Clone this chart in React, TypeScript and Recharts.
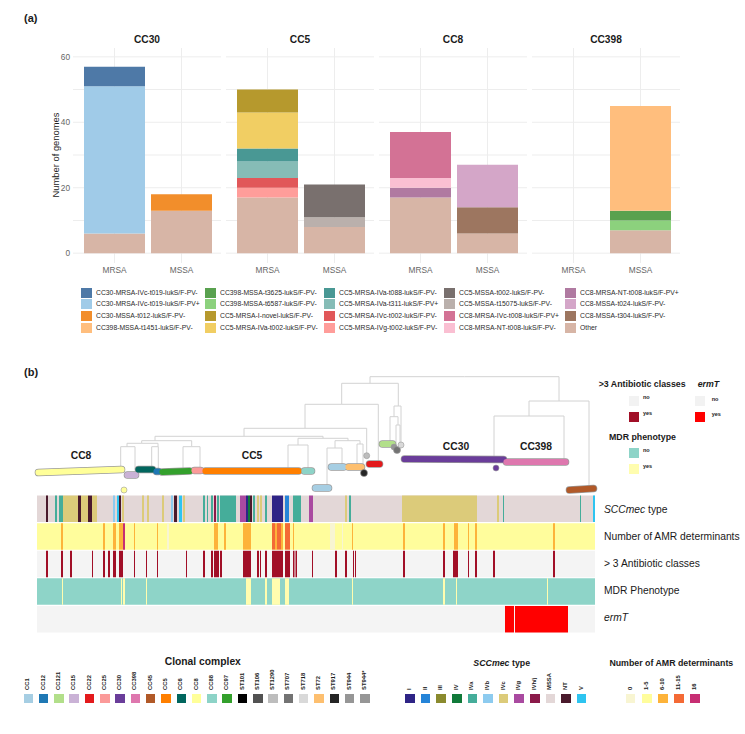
import React from "react";
import {
  BarChart,
  Bar,
  XAxis,
  YAxis,
  CartesianGrid,
  ComposedChart,
  ReferenceLine,
  ReferenceArea,
  Scatter,
} from "recharts";

const FONT = '"Liberation Sans", Arial, Helvetica, sans-serif';

// ---------------- panel (a): genomes per lineage ----------------
const facets = ["CC30", "CC5", "CC8", "CC398"];
const groups = ["MRSA", "MSSA"];
const yTicks = [0, 10, 20, 30, 40, 50, 60];

const lineages = [
  "CC30-MRSA-IVc-t019-lukS/F-PV-",
  "CC30-MRSA-IVc-t019-lukS/F-PV+",
  "CC30-MSSA-t012-lukS/F-PV-",
  "CC398-MSSA-t1451-lukS/F-PV-",
  "CC398-MSSA-t3625-lukS/F-PV-",
  "CC398-MSSA-t6587-lukS/F-PV-",
  "CC5-MRSA-I-novel-lukS/F-PV-",
  "CC5-MRSA-IVa-t002-lukS/F-PV-",
  "CC5-MRSA-IVa-t088-lukS/F-PV-",
  "CC5-MRSA-IVa-t311-lukS/F-PV+",
  "CC5-MRSA-IVc-t002-lukS/F-PV-",
  "CC5-MRSA-IVg-t002-lukS/F-PV-",
  "CC5-MSSA-t002-lukS/F-PV-",
  "CC5-MSSA-t15075-lukS/F-PV-",
  "CC8-MRSA-IVc-t008-lukS/F-PV+",
  "CC8-MRSA-NT-t008-lukS/F-PV-",
  "CC8-MRSA-NT-t008-lukS/F-PV+",
  "CC8-MSSA-t024-lukS/F-PV-",
  "CC8-MSSA-t304-lukS/F-PV-",
  "Other",
];

const lineageColors = [
  "#4E79A7", "#A0CBE8", "#F28E2B", "#FFBE7D", "#59A14F",
  "#8CD17D", "#B6992D", "#F1CE63", "#499894", "#86BCB6",
  "#E15759", "#FF9D9A", "#79706E", "#BAB0AC", "#D37295",
  "#FABFD2", "#B07AA1", "#D4A6C8", "#9D7660", "#D7B5A6",
];

const cc30Mrsa: [string, number][] = [
  ["Other", 6],
  ["CC30-MRSA-IVc-t019-lukS/F-PV+", 45],
  ["CC30-MRSA-IVc-t019-lukS/F-PV-", 6],
];
const cc30Mssa: [string, number][] = [
  ["Other", 13],
  ["CC30-MSSA-t012-lukS/F-PV-", 5],
];
const cc5Mrsa: [string, number][] = [
  ["Other", 17],
  ["CC5-MRSA-IVg-t002-lukS/F-PV-", 3],
  ["CC5-MRSA-IVc-t002-lukS/F-PV-", 3],
  ["CC5-MRSA-IVa-t311-lukS/F-PV+", 5],
  ["CC5-MRSA-IVa-t088-lukS/F-PV-", 4],
  ["CC5-MRSA-IVa-t002-lukS/F-PV-", 11],
  ["CC5-MRSA-I-novel-lukS/F-PV-", 7],
];
const cc5Mssa: [string, number][] = [
  ["Other", 8],
  ["CC5-MSSA-t15075-lukS/F-PV-", 3],
  ["CC5-MSSA-t002-lukS/F-PV-", 10],
];
const cc8Mrsa: [string, number][] = [
  ["Other", 17],
  ["CC8-MRSA-NT-t008-lukS/F-PV+", 3],
  ["CC8-MRSA-NT-t008-lukS/F-PV-", 3],
  ["CC8-MRSA-IVc-t008-lukS/F-PV+", 14],
];
const cc8Mssa: [string, number][] = [
  ["Other", 6],
  ["CC8-MSSA-t304-lukS/F-PV-", 8],
  ["CC8-MSSA-t024-lukS/F-PV-", 13],
];
const cc398Mrsa: [string, number][] = [];
const cc398Mssa: [string, number][] = [
  ["Other", 7],
  ["CC398-MSSA-t6587-lukS/F-PV-", 3],
  ["CC398-MSSA-t3625-lukS/F-PV-", 3],
  ["CC398-MSSA-t1451-lukS/F-PV-", 32],
];

const facetCounts = [
  [cc30Mrsa, cc30Mssa],
  [cc5Mrsa, cc5Mssa],
  [cc8Mrsa, cc8Mssa],
  [cc398Mrsa, cc398Mssa],
];

const facetData = facetCounts.map((pair) =>
  pair.map((counts, gi) => {
    const row: Record<string, string | number> = { group: groups[gi] };
    lineages.forEach((_, k) => (row[`k${k}`] = 0));
    counts.forEach(([name, n]) => (row[`k${lineages.indexOf(name)}`] = n));
    return row;
  })
);

// ggplot stacks the first level on top, so draw from the last one up
const stackOrder = lineages.map((_, k) => k).reverse();

// ---------------- panel (b): tree + tracks ----------------
// tip position along the tree (same units as the tracks) and depth from the root
const treeNodes = [
  { id: "root", parent: "", pos: 427.5, depth: 6.7 },
  { id: "a", parent: "root", pos: 333, depth: 13.3 },
  { id: "b", parent: "root", pos: 522, depth: 31 },
  { id: "c", parent: "b", pos: 492, depth: 46 },
  { id: "cc45", parent: "b", pos: 552, depth: 117 },
  { id: "cc30", parent: "c", pos: 457, depth: 88 },
  { id: "cc398", parent: "c", pos: 527, depth: 92 },
  { id: "d", parent: "a", pos: 304.7, depth: 34.3 },
  { id: "e", parent: "a", pos: 361.3, depth: 36 },
  { id: "f", parent: "e", pos: 357, depth: 46.7 },
  { id: "st718", parent: "e", pos: 364, depth: 73 },
  { id: "cc121", parent: "f", pos: 353, depth: 72 },
  { id: "g", parent: "f", pos: 361, depth: 55 },
  { id: "st944", parent: "g", pos: 359, depth: 76 },
  { id: "st707", parent: "g", pos: 363, depth: 78 },
  { id: "h", parent: "d", pos: 268, depth: 58.3 },
  { id: "cc22", parent: "d", pos: 341.3, depth: 92 },
  { id: "i", parent: "h", pos: 207, depth: 66.3 },
  { id: "st1290", parent: "h", pos: 329.7, depth: 83 },
  { id: "j", parent: "i", pos: 118, depth: 70.7 },
  { id: "k", parent: "i", pos: 286, depth: 68.3 },
  { id: "l", parent: "j", pos: 104.7, depth: 73.3 },
  { id: "m", parent: "j", pos: 154.7, depth: 76.7 },
  { id: "n", parent: "l", pos: 90, depth: 76.7 },
  { id: "o", parent: "l", pos: 121, depth: 76.7 },
  { id: "cc8", parent: "n", pos: 83.7, depth: 97 },
  { id: "cc15", parent: "n", pos: 98, depth: 99 },
  { id: "cc6", parent: "o", pos: 114.7, depth: 99 },
  { id: "cc12", parent: "o", pos: 121.3, depth: 100 },
  { id: "cc97", parent: "m", pos: 146, depth: 98 },
  { id: "cc25", parent: "m", pos: 163, depth: 98 },
  { id: "p", parent: "k", pos: 261, depth: 75 },
  { id: "q", parent: "k", pos: 311, depth: 70.7 },
  { id: "cc5", parent: "p", pos: 251, depth: 98 },
  { id: "cc88", parent: "p", pos: 271, depth: 98 },
  { id: "s", parent: "q", pos: 298, depth: 78 },
  { id: "t", parent: "q", pos: 323, depth: 74 },
  { id: "cc1b", parent: "s", pos: 290, depth: 115 },
  { id: "cc1a", parent: "s", pos: 305, depth: 96 },
  { id: "st72", parent: "t", pos: 320, depth: 96 },
  { id: "st917", parent: "t", pos: 326, depth: 101 },
];

// clade tip bars: [clade colour, pos start, pos end, depth start, depth end]
const cladeBars: [string, number, number, number, number][] = [
  ["#FFFF99", 1.5, 84.5, 102.5, 99.5],
  ["#CAB2D6", 90.5, 98.5, 105, 105],
  ["#01665E", 101.5, 115.5, 99.5, 99.5],
  ["#1F78B4", 119.5, 121.5, 101.5, 101.5],
  ["#33A02C", 125.5, 152.5, 102, 101],
  ["#FB9A99", 157.5, 163.5, 100.5, 100.5],
  ["#FF7F00", 168.5, 261.5, 101, 101],
  ["#8DD3C7", 267.5, 274.5, 101, 101],
  ["#A6CEE3", 294.5, 306.5, 97, 97],
  ["#A6CEE3", 278.5, 291.5, 118, 118],
  ["#FDBF6F", 311.5, 324.5, 97, 97],
  ["#E31A1C", 332.5, 342.5, 94, 94],
  ["#B2DF8A", 345.5, 355.5, 74, 74],
  ["#6A3D9A", 367.5, 466.5, 89, 89.5],
  ["#DE77AE", 469.5, 528.5, 92, 92],
  ["#B15928", 532.5, 556.5, 120, 118.5],
];

const tipDots = [
  { pos: 87, depth: 120, color: "#FFFF99", r: 3 },
  { pos: 459, depth: 98, color: "#6A3D9A", r: 3 },
  { pos: 329.7, depth: 85.7, color: "#BDBDBD", r: 3 },
  { pos: 327, depth: 103, color: "#252525", r: 3.5 },
  { pos: 357, depth: 77, color: "#969696", r: 3 },
  { pos: 360, depth: 80, color: "#737373", r: 3.5 },
  { pos: 364, depth: 75, color: "#D9D9D9", r: 3 },
];

const cladeLabels = [
  { name: "CC8", x: 81, y: 456 },
  { name: "CC5", x: 252, y: 456 },
  { name: "CC30", x: 456, y: 447 },
  { name: "CC398", x: 536, y: 447 },
];

const sccTypes = ["I", "II", "III", "IV", "IVa", "IVb", "IVc", "IVg", "IVh/j", "MSSA", "NT", "V"];
const sccColors = ["#2E2486", "#2584D8", "#8A8A2E", "#117A3A", "#45AD9A", "#8DCBEF", "#DCCB7A", "#A94AA0", "#8B1A4A", "#E3D7D7", "#4A1A2C", "#2EC4F0"];

const amrLevels = ["0", "1-5", "6-10", "11-15", "16"];
const amrColors = ["#F8F5D2", "#FFFD9C", "#FDB33A", "#F46A35", "#C72E73"];

const sccRuns: [number, number, string][] = [
  [9, 11, "NT"], [18, 20, "IVa"], [22, 26, "IVa"], [26, 41, "IVc"], [41, 44, "NT"],
  [44, 51, "IVc"], [51, 55, "NT"], [55, 60, "IVc"], [76, 78, "IVb"], [80, 82, "V"],
  [82, 84, "NT"], [85, 87, "IVc"], [105, 107, "IVc"], [110, 112, "IVc"], [125, 127, "IVc"],
  [134, 136, "IVb"], [137, 140, "NT"], [142, 145, "V"], [146, 148, "IVc"], [166, 168, "IVa"],
  [170, 171, "IVa"], [174, 176, "IVa"], [177, 179, "IVh/j"], [180, 182, "IVa"], [183, 199, "IVa"],
  [203, 209, "IVg"], [209, 211, "I"], [211, 213, "IV"], [213, 215, "NT"], [216, 218, "IVa"],
  [220, 222, "IVc"], [223, 225, "IVc"], [228, 230, "IVa"], [235, 246, "I"], [248, 252, "II"],
  [256, 264, "IVa"], [272, 276, "IVg"], [308, 310, "IVc"], [312, 314, "IVa"], [365, 440, "IVc"],
  [460, 462, "IVc"], [466, 467, "IVa"], [543, 544, "IVa"], [556, 558, "V"],
];

const amrRuns: [number, number, string][] = [
  [24, 26, "6-10"], [66, 68, "6-10"], [76, 79, "6-10"], [82, 86, "6-10"], [86, 88, "16"],
  [97, 98, "6-10"], [120, 121, "6-10"], [130, 132, "0"], [177, 181, "6-10"], [187, 189, "6-10"],
  [206, 214, "6-10"], [235, 238, "11-15"], [238, 240, "6-10"], [240, 244, "11-15"], [244, 246, "6-10"],
  [248, 253, "11-15"], [256, 257, "6-10"], [293, 298, "0"], [305, 306, "0"], [315, 316, "6-10"],
  [366, 368, "6-10"], [406, 408, "6-10"], [417, 421, "6-10"], [431, 432, "6-10"], [438, 440, "6-10"],
  [516, 518, "6-10"],
];

const classRuns: [number, number][] = [
  [9, 11], [24, 26], [33, 35], [55, 56], [66, 68], [71, 73], [76, 79], [82, 86], [97, 98],
  [109, 110], [120, 121], [149, 150], [166, 168], [174, 176], [177, 182], [183, 185], [206, 214],
  [220, 222], [223, 224], [228, 230], [235, 246], [248, 253], [256, 257.5], [258.5, 260], [275, 276],
  [298, 300], [308, 310], [316, 317], [318, 319], [366, 368], [406, 408], [416, 421], [431, 432],
  [438, 440], [456, 458], [516, 518],
];

const mdrRuns: [number, number][] = [
  [25, 26], [84, 85], [86, 88], [109, 110], [209, 214], [228, 230], [235, 243], [248, 252],
  [315, 316], [406, 408], [419, 420], [510, 511],
];

const ermtRuns: [number, number][] = [
  [468, 477], [478, 531],
];

const cloneNames = ["CC1", "CC12", "CC121", "CC15", "CC22", "CC25", "CC30", "CC398", "CC45", "CC5", "CC6", "CC8", "CC88", "CC97", "ST101", "ST106", "ST1290", "ST707", "ST718", "ST72", "ST917", "ST944", "ST944*"];
const cloneColors = ["#A6CEE3", "#1F78B4", "#B2DF8A", "#CAB2D6", "#E31A1C", "#FB9A99", "#6A3D9A", "#DE77AE", "#B15928", "#FF7F00", "#01665E", "#FFFF99", "#8DD3C7", "#33A02C", "#000000", "#525252", "#BDBDBD", "#737373", "#D9D9D9", "#FDBF6F", "#252525", "#969696", "#969696"];

const treeEdges = treeNodes.flatMap((nd) => {
  const par = treeNodes.find((p) => p.id === nd.parent);
  if (!par) return [];
  return [
    [{ x: nd.pos, y: par.depth }, { x: nd.pos, y: nd.depth }],
    [{ x: nd.pos, y: par.depth }, { x: par.pos, y: par.depth }],
  ];
});

const trackNames = ["SCCmec type", "Number of AMR determinants", "> 3 Antibiotic classes", "MDR Phenotype", "ermT"];

const trackRows = [
  { base: sccColors[9], runs: sccRuns.map(([a, b, t]) => [a, b, sccColors[sccTypes.indexOf(t)]]) },
  { base: amrColors[1], runs: amrRuns.map(([a, b, t]) => [a, b, amrColors[amrLevels.indexOf(t)]]) },
  { base: "#F4F4F4", runs: classRuns.map(([a, b]) => [a, b, "#A10F27"]) },
  { base: "#8ED4C8", runs: mdrRuns.map(([a, b]) => [a, b, "#FFFDAF"]) },
  { base: "#F4F4F4", runs: ermtRuns.map(([a, b]) => [a, b, "#FF0000"]) },
];

// one anchor per track row so the chart has data to build its scales from
const trackAnchors = trackNames.map((name, i) => ({ name, pos: 0, row: i + 0.5 }));

const trackLabelY = [510, 537, 564, 591, 618];

const plotLeft = [73, 226, 379, 532];

type TxtProps = {
  x: number;
  y: number;
  size: number;
  bold?: boolean;
  italic?: boolean;
  center?: boolean;
  color?: string;
  children: React.ReactNode;
};

function Txt({ x, y, size, bold, italic, center, color = "#1a1a1a", children }: TxtProps) {
  return (
    <div
      style={{
        position: "absolute",
        left: x,
        top: y,
        transform: center ? "translate(-50%, -50%)" : "translate(0, -50%)",
        fontSize: size,
        fontWeight: bold ? 700 : 400,
        fontStyle: italic ? "italic" : "normal",
        color,
        whiteSpace: "nowrap",
        lineHeight: 1,
      }}
    >
      {children}
    </div>
  );
}

function UpLabel({ cx, text }: { cx: number; text: string }) {
  const fs = 5.8;
  return (
    <div
      style={{
        position: "absolute",
        left: cx,
        top: 690 - fs / 2,
        fontSize: fs,
        lineHeight: `${fs}px`,
        fontWeight: 700,
        whiteSpace: "nowrap",
        transformOrigin: "0 50%",
        transform: "rotate(-90deg)",
        color: "#1a1a1a",
      }}
    >
      {text}
    </div>
  );
}

function Swatch({ x, y, w, h, color }: { x: number; y: number; w: number; h: number; color: string }) {
  return <div style={{ position: "absolute", left: x, top: y, width: w, height: h, background: color }} />;
}

function FacetChart({ idx }: { idx: number }) {
  const first = idx === 0;
  const yw = first ? 50 : 0;
  return (
    <div style={{ position: "absolute", left: plotLeft[idx] - yw, top: 48 }}>
      <BarChart
        width={148 + yw}
        height={235}
        data={facetData[idx]}
        margin={{ top: 0, right: 0, bottom: 0, left: 0 }}
        barSize={61}
      >
        <CartesianGrid
          stroke="#EDEDED"
          syncWithTicks
          horizontalValues={yTicks}
          verticalValues={groups}
        />
        <XAxis
          dataKey="group"
          height={20}
          interval={0}
          tickLine={false}
          axisLine={false}
          tickSize={0}
          tickMargin={4}
          padding={{ left: 8, right: 6 }}
          tick={{ fill: "#666", fontSize: 8.3, fontFamily: FONT }}
        />
        <YAxis
          type="number"
          domain={[-3, 62.7]}
          allowDataOverflow
          ticks={yTicks}
          hide={!first}
          width={yw}
          tickLine={false}
          axisLine={false}
          tickSize={0}
          tickMargin={3}
          tickFormatter={(v: number) => (v % 20 === 0 ? String(v) : "")}
          tick={{ fill: "#666", fontSize: 8.3, fontFamily: FONT }}
        />
        {stackOrder.map((k) => (
          <Bar key={k} dataKey={`k${k}`} stackId="s" fill={lineageColors[k]} isAnimationActive={false} />
        ))}
      </BarChart>
    </div>
  );
}

export default function App() {
  return (
    <div
      style={{
        position: "absolute",
        left: 0,
        top: 0,
        width: 745,
        height: 734,
        background: "#fff",
        fontFamily: FONT,
        overflow: "hidden",
      }}
    >
      {/* ---------- (a) ---------- */}
      <Txt x={24} y={18} size={11} bold>(a)</Txt>
      {facets.map((f, i) => (
        <Txt key={f} x={plotLeft[i] + 74} y={40} size={10.2} bold center>
          {f}
        </Txt>
      ))}
      {facets.map((f, i) => (
        <FacetChart key={f} idx={i} />
      ))}
      <div
        style={{
          position: "absolute",
          left: 55,
          top: 155,
          transform: "translate(-50%, -50%) rotate(-90deg)",
          fontSize: 9.4,
          whiteSpace: "nowrap",
          color: "#1a1a1a",
        }}
      >
        Number of genomes
      </div>

      {lineages.map((name, i) => {
        const col = Math.floor(i / 4);
        const row = i % 4;
        const tx = [96, 220, 339, 459, 580][col];
        const cy = 292.5 + row * 11.7;
        return (
          <React.Fragment key={name}>
            <Swatch x={tx - 15} y={cy - 5} w={11} h={10} color={lineageColors[i]} />
            <Txt x={tx} y={cy} size={6.8} color="#2a2a2a">{name}</Txt>
          </React.Fragment>
        );
      })}

      {/* ---------- (b) ---------- */}
      <Txt x={24} y={372} size={11} bold>(b)</Txt>

      <div style={{ position: "absolute", left: 0, top: 370 }}>
        <ComposedChart width={745} height={130} margin={{ top: 0, right: 148, bottom: 0, left: 37 }}>
          <XAxis type="number" dataKey="pos" domain={[0, 560]} hide allowDataOverflow />
          <YAxis type="number" dataKey="depth" domain={[0, 130]} reversed hide allowDataOverflow />
          {treeEdges.map((seg, i) => (
            <ReferenceLine key={`e${i}`} segment={seg} stroke="#D2D2D2" strokeWidth={1} ifOverflow="visible" />
          ))}
          {cladeBars.map(([c, p1, p2, d1, d2], i) => (
            <ReferenceLine
              key={`o${i}`}
              segment={[{ x: p1, y: d1 }, { x: p2, y: d2 }]}
              stroke="#9A9A9A"
              strokeWidth={7.6}
              strokeLinecap="round"
              ifOverflow="visible"
            />
          ))}
          {cladeBars.map(([c, p1, p2, d1, d2], i) => (
            <ReferenceLine
              key={`b${i}`}
              segment={[{ x: p1, y: d1 }, { x: p2, y: d2 }]}
              stroke={c}
              strokeWidth={6.2}
              strokeLinecap="round"
              ifOverflow="visible"
            />
          ))}
          <Scatter
            data={tipDots}
            dataKey="depth"
            isAnimationActive={false}
            shape={(p: any) => (
              <circle cx={p.cx} cy={p.cy} r={p.payload.r} fill={p.payload.color} stroke="#9A9A9A" strokeWidth={0.6} />
            )}
          />
        </ComposedChart>
      </div>
      {cladeLabels.map((l) => (
        <Txt key={l.name} x={l.x} y={l.y} size={10.3} bold center>
          {l.name}
        </Txt>
      ))}

      <div style={{ position: "absolute", left: 0, top: 495 }}>
        <ComposedChart width={745} height={138} margin={{ top: 0, right: 150, bottom: 0, left: 37 }}>
          <XAxis type="number" dataKey="pos" domain={[0, 558]} hide allowDataOverflow />
          <YAxis type="number" dataKey="row" domain={[0, 5]} reversed hide allowDataOverflow />
          {trackRows.map((t, i) => (
            <ReferenceArea key={`t${i}`} x1={0} x2={558} y1={i + 0.02} y2={i + 0.98} fill={t.base} fillOpacity={1} ifOverflow="visible" />
          ))}
          {trackRows.flatMap((t, i) =>
            t.runs.map(([a, b, c], j) => (
              <ReferenceArea
                key={`r${i}-${j}`}
                x1={a as number}
                x2={b as number}
                y1={i + 0.02}
                y2={i + 0.98}
                fill={c as string}
                fillOpacity={1}
                ifOverflow="visible"
              />
            ))
          )}
          <Scatter data={trackAnchors} dataKey="row" isAnimationActive={false} shape={() => <g />} />
        </ComposedChart>
      </div>
      {trackNames.map((name, i) => (
        <Txt key={name} x={604} y={trackLabelY[i]} size={10.3}>
          {name === "SCCmec type" ? (
            <>
              <i>SCCmec</i> type
            </>
          ) : name === "ermT" ? (
            <i>ermT</i>
          ) : (
            name
          )}
        </Txt>
      ))}

      {/* legends for the tracks */}
      <Txt x={598.7} y={383.7} size={8.8} bold>&gt;3 Antibiotic classes</Txt>
      <Txt x={697.7} y={383.7} size={8.8} bold italic>ermT</Txt>
      <Swatch x={629} y={396} w={10} h={10} color="#F2F2F2" />
      <Swatch x={629} y={412} w={10} h={10} color="#A10F27" />
      <Txt x={643} y={398} size={5.5} bold>no</Txt>
      <Txt x={643} y={414} size={5.5} bold>yes</Txt>
      <Swatch x={695} y={396} w={10} h={10} color="#F2F2F2" />
      <Swatch x={695} y={412} w={10} h={10} color="#FF0000" />
      <Txt x={711.7} y={400} size={5.5} bold>no</Txt>
      <Txt x={711.7} y={415} size={5.5} bold>yes</Txt>
      <Txt x={609} y={437} size={8.8} bold>MDR phenotype</Txt>
      <Swatch x={629} y={448} w={10} h={10} color="#8ED4C8" />
      <Swatch x={629} y={464} w={10} h={10} color="#FFFDAF" />
      <Txt x={643} y={450.7} size={5.5} bold>no</Txt>
      <Txt x={643} y={466.7} size={5.5} bold>yes</Txt>

      {/* bottom legends */}
      <Txt x={202.8} y={661.7} size={10.3} bold center>Clonal complex</Txt>
      {cloneNames.map((n, i) => {
        const cx = 28.3 + i * 15.3;
        return (
          <React.Fragment key={n}>
            <UpLabel cx={cx} text={n} />
            <Swatch x={cx - 4.75} y={694} w={9.5} h={9} color={cloneColors[i]} />
          </React.Fragment>
        );
      })}

      <Txt x={501.7} y={663.3} size={8.8} bold center>
        <i>SCCmec</i> type
      </Txt>
      {sccTypes.map((n, i) => {
        const cx = 410 + i * 15.6;
        return (
          <React.Fragment key={n}>
            <UpLabel cx={cx} text={n} />
            <Swatch x={cx - 4.75} y={694} w={9.5} h={9} color={sccColors[i]} />
          </React.Fragment>
        );
      })}

      <Txt x={671.3} y={663.3} size={8.8} bold center>Number of AMR determinants</Txt>
      {amrLevels.map((n, i) => {
        const cx = 630.7 + i * 16.1;
        return (
          <React.Fragment key={n}>
            <UpLabel cx={cx} text={n} />
            <Swatch x={cx - 4.75} y={694} w={9.5} h={9} color={amrColors[i]} />
          </React.Fragment>
        );
      })}
    </div>
  );
}
